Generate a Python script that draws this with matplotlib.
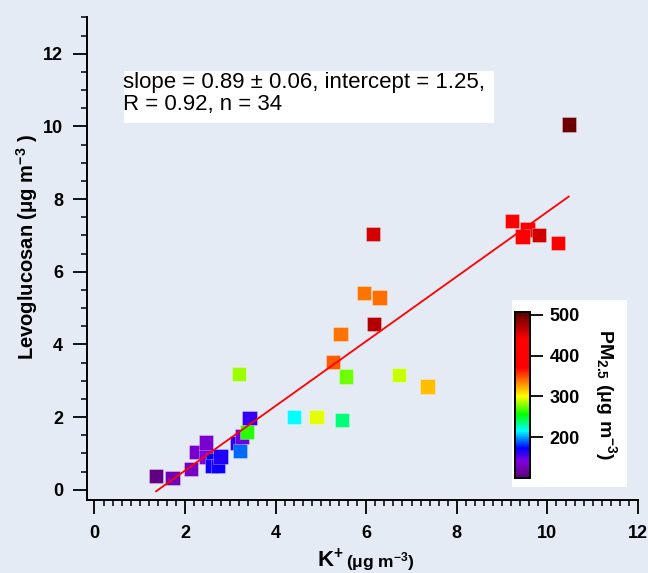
import numpy as np
import matplotlib.pyplot as plt
from matplotlib.colors import LinearSegmentedColormap
from matplotlib.patches import Rectangle
from matplotlib.ticker import MultipleLocator

plt.rcParams['font.family'] = ['Liberation Sans', 'DejaVu Sans']
plt.rcParams['font.weight'] = 'bold'
plt.rcParams['mathtext.fontset'] = 'custom'
plt.rcParams['mathtext.rm'] = 'Liberation Sans:bold'
plt.rcParams['mathtext.it'] = 'Liberation Sans:bold'
plt.rcParams['mathtext.bf'] = 'Liberation Sans:bold'

# K+ (ug m-3), levoglucosan (ug m-3), PM2.5 (ug m-3)
k_plus = [1.36, 1.72, 2.13, 2.24, 2.47, 2.61, 2.59, 2.73, 2.78, 2.46,
          3.15, 3.21, 3.26, 3.36, 3.42, 3.19, 4.40, 4.90, 5.46, 5.26,
          5.55, 5.43, 5.95, 6.29, 6.17, 6.73, 7.35, 6.15, 10.47, 9.21,
          9.56, 9.45, 9.81, 10.24]
levo = [0.37, 0.32, 0.57, 1.05, 0.92, 0.83, 0.66, 0.66, 0.92, 1.30,
        1.29, 1.07, 1.47, 1.59, 1.97, 3.18, 2.01, 2.00, 1.93, 3.51,
        3.12, 4.29, 5.41, 5.29, 4.57, 3.17, 2.84, 7.04, 10.05, 7.39,
        7.16, 6.97, 7.02, 6.79]
pm25 = [105, 125, 130, 132, 140, 172, 168, 170, 165, 135,
        163, 190, 145, 262, 160, 282, 215, 295, 237, 345,
        275, 338, 338, 340, 470, 290, 318, 458, 500, 410,
        405, 400, 460, 415]

slope = 0.89
intercept = -1.25
fit_text = "slope = 0.89 \u00b1 0.06, intercept = 1.25,\nR = 0.92, n = 34"

# Igor-like rainbow with dark ends
vmin, vmax = 100, 508
stops = [(100, '#5c0078'), (140, '#8000e0'), (172, '#0000ff'), (215, '#00ffff'),
         (255, '#00ff00'), (300, '#ffff00'), (335, '#ff8000'), (370, '#ff0000'),
         (440, '#ff0000'), (508, '#580000')]
cmap = LinearSegmentedColormap.from_list(
    'igor_rainbow', [((v - vmin) / (vmax - vmin), c) for v, c in stops])

bg = '#e4ebf4'
fig = plt.figure(figsize=(6.48, 5.73), dpi=100, facecolor=bg)
W, H = 648, 573

ax = fig.add_axes([86.8 / W, 73 / H, (638 - 86.8) / W, (500 - 17) / H])
ax.set_facecolor('none')
ax.set_xlim(-0.17, 12)
ax.set_ylim(-0.28, 13.01)

for s in ['top', 'right']:
    ax.spines[s].set_visible(False)
for s in ['left', 'bottom']:
    ax.spines[s].set_linewidth(1.4)

ax.xaxis.set_major_locator(MultipleLocator(2))
ax.xaxis.set_minor_locator(MultipleLocator(0.2))
ax.yaxis.set_major_locator(MultipleLocator(2))
ax.yaxis.set_minor_locator(MultipleLocator(0.5))
ax.tick_params(which='major', length=10, width=1.3, labelsize=13)
ax.tick_params(which='minor', length=4.5, width=1.1)
ax.tick_params(axis='x', which='major', pad=8)
ax.tick_params(axis='y', which='major', pad=7)

sc = ax.scatter(k_plus, levo, c=pm25, cmap=cmap, vmin=vmin, vmax=vmax,
                marker='s', s=105, edgecolors=(1, 1, 1, 0.35), linewidths=0.6,
                zorder=2)

xs = np.array([min(k_plus), max(k_plus)])
ax.plot(xs, slope * xs + intercept, color='red', lw=1.3, zorder=3)

# annotation box
fig.add_artist(Rectangle((124 / W, 1 - 123 / H), 370 / W, 52 / H,
                         transform=fig.transFigure, facecolor='white',
                         edgecolor='none', zorder=-1))
fig.text(123 / W, 1 - 72 / H, fit_text, fontsize=16, fontweight='normal',
         ha='left', va='top', linespacing=1.05)

# colorbar with white frame
fig.add_artist(Rectangle((512 / W, 1 - 487 / H), 115 / W, 187 / H,
                         transform=fig.transFigure, facecolor='white',
                         edgecolor='none', zorder=-1))
cax = fig.add_axes([515 / W, (H - 477.7) / H, 15 / W, 166 / H])
cb = fig.colorbar(sc, cax=cax)
cb.set_ticks([200, 300, 400, 500])
cb.minorticks_off()
cb.outline.set_linewidth(1.4)
cax.tick_params(length=9.5, width=1.3, labelsize=13, pad=4.5)
fig.text(606 / W, 1 - 395 / H, 'PM$_{2.5}$ (\u03bcg m$^{-3}$)', rotation=-90,
         ha='center', va='center', fontsize=14)

# axis labels
fig.text(27 / W, 1 - 247 / H, 'Levoglucosan (\u03bcg m$^{-3}$ )', rotation=90,
         ha='center', va='center', fontsize=14.5)
fig.text(316.7 / W, 1 - 567 / H, 'K$^{+}$', ha='left', va='baseline', fontsize=16)
fig.text(346 / W, 1 - 567 / H, '(\u03bcg m$^{-3}$)', ha='left', va='baseline',
         fontsize=12.5)

fig.savefig('out.png', dpi=100, facecolor=bg)
